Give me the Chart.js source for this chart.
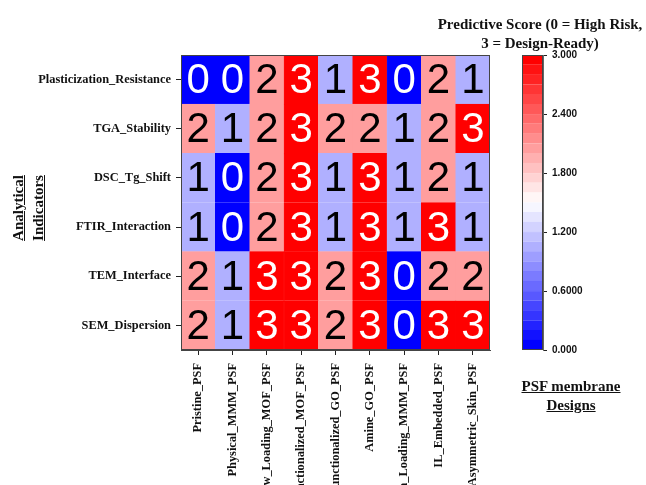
<!DOCTYPE html>
<html>
<head>
<meta charset="utf-8">
<script src="https://cdn.jsdelivr.net/npm/chart.js@4/dist/chart.umd.min.js"></script>
<style>
  body { margin: 0; background: #fff; }
  #wrap { position: relative; width: 646px; height: 485px; overflow: hidden; }
  canvas { position: absolute; top: 0; }
  .lbl { position: absolute; font-family: "Liberation Serif", serif; font-weight: bold; color: #111;
         text-align: center; white-space: nowrap; }
  .u { text-decoration: underline; }
</style>
</head>
<body>
<div id="wrap">
  <canvas id="heat" width="500" height="485" style="left:0"></canvas>
  <canvas id="bar" width="146" height="485" style="left:500px"></canvas>
  <div class="lbl" style="left:410px; top:15px; width:260px; font-size:15px; line-height:19px;">Predictive Score (0 = High Risk,<br>3 = Design-Ready)</div>
  <div class="lbl u" style="left:501px; top:377px; width:140px; font-size:15px; line-height:19px;">PSF membrane<br>Designs</div>
  <div class="lbl u" style="left:-42px; top:188px; width:140px; font-size:15px; line-height:20px; transform: rotate(-90deg);">Analytical<br>Indicators</div>
</div>
<script>
const designs = [
  "Pristine_PSF",
  "Physical_MMM_PSF",
  "Low_Loading_MOF_PSF",
  "Functionalized_MOF_PSF",
  "Functionalized_GO_PSF",
  "Amine_GO_PSF",
  "High_Loading_MMM_PSF",
  "IL_Embedded_PSF",
  "Asymmetric_Skin_PSF",
];

// top to bottom as in the picture
const indicators = [
  "Plasticization_Resistance",
  "TGA_Stability",
  "DSC_Tg_Shift",
  "FTIR_Interaction",
  "TEM_Interface",
  "SEM_Dispersion",
];

const scores = [
  [0, 0, 2, 3, 1, 3, 0, 2, 1],
  [2, 1, 2, 3, 2, 2, 1, 2, 3],
  [1, 0, 2, 3, 1, 3, 1, 2, 1],
  [1, 0, 2, 3, 1, 3, 1, 3, 1],
  [2, 1, 3, 3, 2, 3, 0, 2, 2],
  [2, 1, 3, 3, 2, 3, 0, 3, 3],
];

const cbarTicks = [0, 0.6, 1.2, 1.8, 2.4, 3.0];
const cbarTickLabels = ["0.000", "0.6000", "1.200", "1.800", "2.400", "3.000"];
const nBands = 30;
const vmin = 0, vmax = 3;

function bandColor(k) {
  const t = k / (nBands - 1);
  let r, g, b;
  if (t < 0.5) {
    const f = t / 0.5;
    r = g = Math.round(255 * f); b = 255;
  } else {
    const f = (t - 0.5) / 0.5;
    r = 255; g = b = Math.round(255 * (1 - f));
  }
  return `rgb(${r},${g},${b})`;
}
function valueColor(v) {
  let k = Math.floor((v - vmin) / (vmax - vmin) * nBands);
  k = Math.max(0, Math.min(nBands - 1, k));
  return bandColor(k);
}

const frame = {
  id: "frame",
  afterDraw(chart) {
    const a = chart.chartArea, ctx = chart.ctx;
    ctx.save();
    ctx.strokeStyle = "#444";
    ctx.lineWidth = 1;
    ctx.strokeRect(a.left + 0.5, a.top + 0.5, a.right - a.left - 1, a.bottom - a.top - 1);
    ctx.restore();
  },
};

const cellText = {
  id: "cellText",
  afterDatasetsDraw(chart) {
    const ctx = chart.ctx;
    ctx.save();
    ctx.font = "42px 'Liberation Sans', Arial, sans-serif";
    ctx.textAlign = "center";
    ctx.textBaseline = "middle";
    chart.data.datasets.forEach((ds, di) => {
      const meta = chart.getDatasetMeta(di);
      meta.data.forEach((el, i) => {
        const v = ds.scores[i];
        ctx.fillStyle = (v === 0 || v === 3) ? "#fff" : "#000";
        ctx.fillText(String(v), el.x, (el.y + el.base) / 2 + 2);
      });
    });
    ctx.restore();
  },
};

// bottom row first so stacking goes upward
const rowsBottomUp = indicators.map((name, r) => ({ name, vals: scores[r] })).reverse();

new Chart("heat", {
  type: "bar",
  data: {
    labels: designs,
    datasets: rowsBottomUp.map(row => ({
      label: row.name,
      data: row.vals.map(() => 1),
      scores: row.vals,
      backgroundColor: row.vals.map(valueColor),
      borderColor: row.vals.map(valueColor),
      borderWidth: 0.5,
      barPercentage: 1,
      categoryPercentage: 1,
    })),
  },
  options: {
    responsive: false,
    animation: false,
    events: [],
    layout: { padding: { top: 55, right: 10, left: 0, bottom: 0 } },
    plugins: { legend: { display: false }, tooltip: { enabled: false } },
    scales: {
      x: {
        stacked: true,
        grid: { offset: false, drawOnChartArea: false, tickLength: 5, color: "#222" },
        border: { color: "#444" },
        ticks: {
          autoSkip: false, minRotation: 90, maxRotation: 90, padding: 8,
          color: "#111", font: { family: "'Liberation Serif', serif", weight: "bold", size: 12.4 },
        },
        afterFit(scale) { scale.height = 135; scale.paddingLeft = 0; scale.paddingRight = 0; },
      },
      y: {
        stacked: true,
        min: 0, max: indicators.length,
        grid: { drawOnChartArea: false, tickLength: 5, color: "#222" },
        border: { color: "#444" },
        afterBuildTicks(scale) {
          scale.ticks = indicators.map((_, i) => ({ value: i + 0.5 }));
        },
        ticks: {
          padding: 5, color: "#111",
          font: { family: "'Liberation Serif', serif", weight: "bold", size: 12.4 },
          callback: v => indicators[indicators.length - 1 - Math.floor(v)],
        },
        afterFit(scale) { scale.width = 181; },
      },
    },
  },
  plugins: [cellText, frame],
});

// colour bar: one floating bar per band
const bands = [];
for (let k = 0; k < nBands; k++) {
  const lo = vmin + (vmax - vmin) * k / nBands;
  const hi = vmin + (vmax - vmin) * (k + 1) / nBands;
  bands.push({ lo, hi, color: bandColor(k) });
}

new Chart("bar", {
  type: "bar",
  data: {
    labels: [""],
    datasets: bands.map(b => ({
      data: [[b.lo, b.hi]],
      backgroundColor: b.color,
      borderColor: b.color,
      borderWidth: 0.5,
      barPercentage: 1,
      categoryPercentage: 1,
      grouped: false,
    })),
  },
  options: {
    responsive: false,
    animation: false,
    events: [],
    layout: { padding: { top: 55, left: 22, bottom: 135, right: 0 } },
    plugins: { legend: { display: false }, tooltip: { enabled: false } },
    scales: {
      x: { display: false },
      y: {
        position: "right",
        min: vmin, max: vmax,
        grid: { drawOnChartArea: false, tickLength: 4, color: "#222" },
        border: { color: "#666" },
        afterBuildTicks(scale) {
          scale.ticks = cbarTicks.map(v => ({ value: v }));
        },
        ticks: {
          padding: 5, color: "#111",
          font: { family: "'Liberation Sans', Arial, sans-serif", weight: "bold", size: 10 },
          callback: (v, i) => cbarTickLabels[i],
        },
        afterFit(scale) { scale.width = 103; },
      },
    },
  },
  plugins: [frame],
});
</script>
</body>
</html>
